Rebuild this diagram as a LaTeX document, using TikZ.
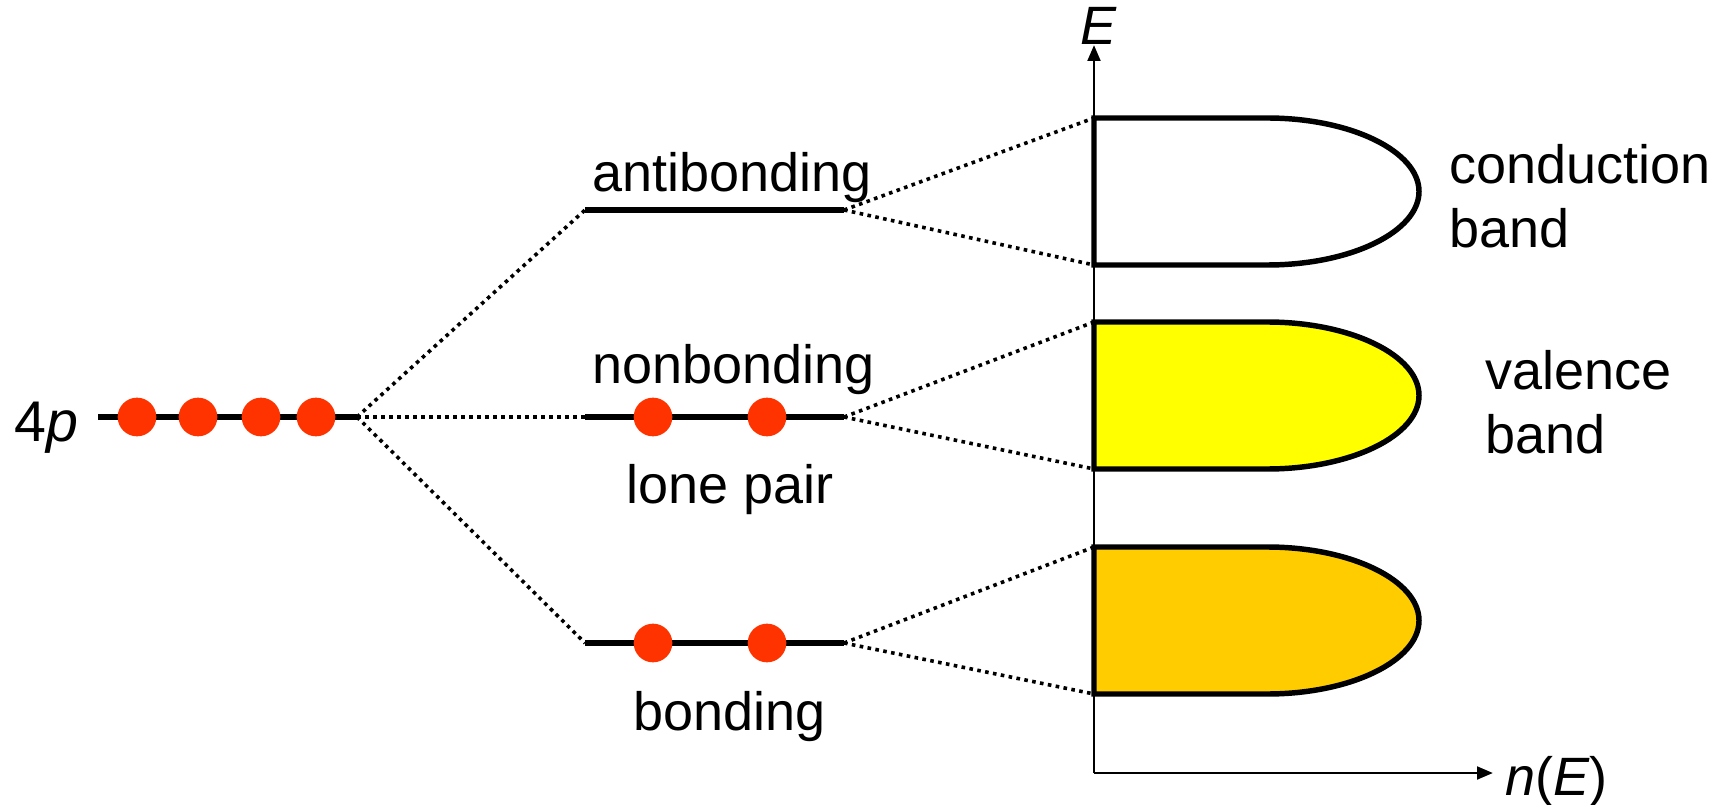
\documentclass[tikz,border=0pt]{standalone}
\usepackage{fontspec}
\setmainfont{Liberation Sans}
\usetikzlibrary{arrows.meta}
\definecolor{dotred}{HTML}{FF3300}
\definecolor{vbyellow}{HTML}{FFFF00}
\definecolor{bbgold}{HTML}{FFCC00}
\begin{document}
\begin{tikzpicture}[x=0.75pt,y=-0.75pt,
  level/.style={line width=4.5pt},
  electron/.style={circle,fill=dotred,inner sep=0pt,minimum size=29pt},
  corr/.style={line width=2.7pt,dash pattern=on 2.7pt off 3.3pt},
  bandline/.style={line width=4.1pt,line join=miter},
  axis/.style={line width=2.2pt},
  tip/.style={-{Triangle[length=12pt,width=9.5pt]}},
  lbl/.style={inner sep=0pt,anchor=base west,font=\fontsize{40.5pt}{48pt}\selectfont},
  biglbl/.style={inner sep=0pt,anchor=base west,font=\fontsize{43pt}{52pt}\selectfont}
]
\useasboundingbox (0,0) rectangle (1727,805);

% molecular-orbital levels
\coordinate (pL) at (98,417);   \coordinate (pR) at (357,417);
\coordinate (abL) at (585,210); \coordinate (abR) at (844,210);
\coordinate (nbL) at (585,417); \coordinate (nbR) at (844,417);
\coordinate (bL) at (585,643);  \coordinate (bR) at (844,643);

% band edges on the energy axis
\coordinate (cbT) at (1094,118); \coordinate (cbB) at (1094,265);
\coordinate (vbT) at (1094,322); \coordinate (vbB) at (1094,469);
\coordinate (bbT) at (1094,547); \coordinate (bbB) at (1094,694);

% axes
\coordinate (O) at (1094,773);
\coordinate (Etop) at (1094,45);
\coordinate (nEnd) at (1493,773);
\draw[axis,tip] (O) -- (Etop);
\draw[axis,tip] (O) -- (nEnd);
\node[lbl] (Elab) at (1080,45) {\textit{E}};
\node[lbl] (nlab) at (1505,795) {\textit{n}(\textit{E})};

% density-of-states bands
\draw[bandline,fill=white] (cbT) -- (1267,118)
  .. controls (1351,118) and (1419,151.4) .. (1419,191.5)
  .. controls (1419,231.6) and (1351,265) .. (1267,265) -- (cbB) -- cycle;
\draw[bandline,fill=vbyellow] (vbT) -- (1267,322)
  .. controls (1351,322) and (1419,355.4) .. (1419,395.5)
  .. controls (1419,435.6) and (1351,469) .. (1267,469) -- (vbB) -- cycle;
\draw[bandline,fill=bbgold] (bbT) -- (1267,547)
  .. controls (1351,547) and (1419,580.4) .. (1419,620.5)
  .. controls (1419,660.6) and (1351,694) .. (1267,694) -- (bbB) -- cycle;

% correlation lines
\draw[corr] (pR) -- (abL);
\draw[corr] (pR) -- (nbL);
\draw[corr] (pR) -- (bL);
\draw[corr] (abR) -- (cbT);
\draw[corr] (abR) -- (cbB);
\draw[corr] (nbR) -- (vbT);
\draw[corr] (nbR) -- (vbB);
\draw[corr] (bR) -- (bbT);
\draw[corr] (bR) -- (bbB);

% levels
\draw[level] (pL) -- (pR);
\draw[level] (abL) -- (abR);
\draw[level] (nbL) -- (nbR);
\draw[level] (bL) -- (bR);

% electrons
\node[electron] (p1) at (137,417) {};
\node[electron] (p2) at (198,417) {};
\node[electron] (p3) at (261,417) {};
\node[electron] (p4) at (316,417) {};
\node[electron] (n1) at (653,417) {};
\node[electron] (n2) at (767,417) {};
\node[electron] (b1) at (653,643) {};
\node[electron] (b2) at (767,643) {};

% labels
\node[biglbl] (p4lab) at (14,441) {4\textit{p}};
\node[lbl] (tab) at (592,192) {antibonding};
\node[lbl] (tnb) at (592,383) {nonbonding};
\node[lbl] (tlp) at (626,503) {lone pair};
\node[lbl] (tb) at (633,730) {bonding};
\node[lbl] (tcb1) at (1449,184) {conduction};
\node[lbl] (tcb2) at (1449,248) {band};
\node[lbl] (tvb1) at (1485,389) {valence};
\node[lbl] (tvb2) at (1485,453) {band};
\end{tikzpicture}
\end{document}
